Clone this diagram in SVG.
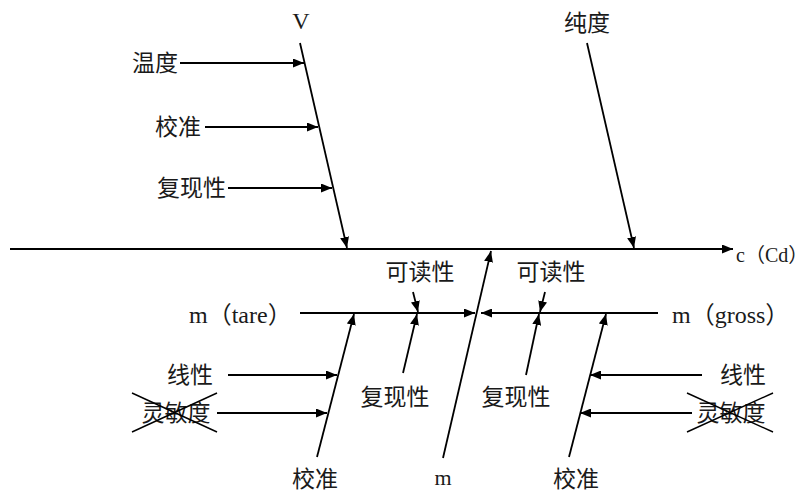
<svg xmlns="http://www.w3.org/2000/svg" width="811" height="491" viewBox="0 0 811 491">
<defs>
<marker id="ah" markerWidth="11" markerHeight="9" refX="11" refY="4.5" orient="auto" markerUnits="userSpaceOnUse">
<path d="M0,0 L11,4.5 L0,9 z" fill="#000"/>
</marker>
<style>
.t{font-family:"Liberation Serif","Noto Sans CJK SC",serif;font-size:23px;fill:#1a1a1a;dominant-baseline:central}
.l{font-size:24px}
.c{fill:none;stroke:#000;stroke-width:1.8}
.a{marker-end:url(#ah)}
.x{fill:none;stroke:#000;stroke-width:1.4}
</style>
</defs>
<rect width="811" height="491" fill="#fff"/>
<g id="connectors">
<line class="c a" x1="10" y1="249" x2="733" y2="249"/>
<line class="c a" x1="300" y1="43" x2="347" y2="248"/>
<line class="c a" x1="587" y1="43" x2="634" y2="248"/>
<line class="c a" x1="180" y1="63" x2="304" y2="63"/>
<line class="c a" x1="205" y1="127" x2="318" y2="127"/>
<line class="c a" x1="228" y1="188" x2="332" y2="188"/>
<line class="c a" x1="443" y1="458" x2="491" y2="251"/>
<line class="c a" x1="300" y1="313" x2="475" y2="313"/>
<line class="c a" x1="658" y1="313" x2="481" y2="313"/>
<line class="c a" x1="317" y1="457" x2="354" y2="314"/>
<line class="c a" x1="413" y1="292" x2="418" y2="312"/>
<line class="c a" x1="403" y1="373" x2="417" y2="314"/>
<line class="c a" x1="228" y1="375" x2="337" y2="375"/>
<line class="c a" x1="217" y1="413" x2="327" y2="413"/>
<line class="c a" x1="545" y1="292" x2="540" y2="312"/>
<line class="c a" x1="526" y1="375" x2="539" y2="314"/>
<line class="c a" x1="569" y1="457" x2="606" y2="314"/>
<line class="c a" x1="702" y1="375" x2="590" y2="375"/>
<line class="c a" x1="692" y1="413" x2="580" y2="413"/>
</g>
<g id="effect"><text class="t" style="font-size:20px" x="736" y="255">c（Cd）</text></g>
<g id="V"><text class="t l" x="301" y="21" text-anchor="middle">V</text></g>
<g id="purity"><text class="t" x="587" y="23" text-anchor="middle">纯度</text></g>
<g id="temp"><text class="t" x="178" y="63" text-anchor="end">温度</text></g>
<g id="calibV"><text class="t" x="201" y="127" text-anchor="end">校准</text></g>
<g id="reproV"><text class="t" x="226" y="188" text-anchor="end">复现性</text></g>
<g id="mtare"><text class="t l" x="189" y="315">m（tare）</text></g>
<g id="mgross"><text class="t l" x="672" y="315">m（gross）</text></g>
<g id="m"><text class="t" style="font-size:22px" x="443" y="477" text-anchor="middle">m</text></g>
<g id="readL"><text class="t" x="420" y="272" text-anchor="middle">可读性</text></g>
<g id="readR"><text class="t" x="551" y="272" text-anchor="middle">可读性</text></g>
<g id="reproL"><text class="t" x="395" y="397" text-anchor="middle">复现性</text></g>
<g id="reproR"><text class="t" x="516" y="397" text-anchor="middle">复现性</text></g>
<g id="calibL"><text class="t" x="315" y="479" text-anchor="middle">校准</text></g>
<g id="calibR"><text class="t" x="576" y="479" text-anchor="middle">校准</text></g>
<g id="linL"><text class="t" x="213" y="375" text-anchor="end">线性</text></g>
<g id="linR"><text class="t" x="720" y="375">线性</text></g>
<g id="sensL"><text class="t" x="176" y="413" text-anchor="middle">灵敏度</text>
<line class="x" x1="132" y1="393" x2="217" y2="432"/><line class="x" x1="132" y1="432" x2="217" y2="393"/></g>
<g id="sensR"><text class="t" x="731" y="413" text-anchor="middle">灵敏度</text>
<line class="x" x1="687" y1="393" x2="773" y2="432"/><line class="x" x1="687" y1="432" x2="773" y2="393"/></g>
</svg>
